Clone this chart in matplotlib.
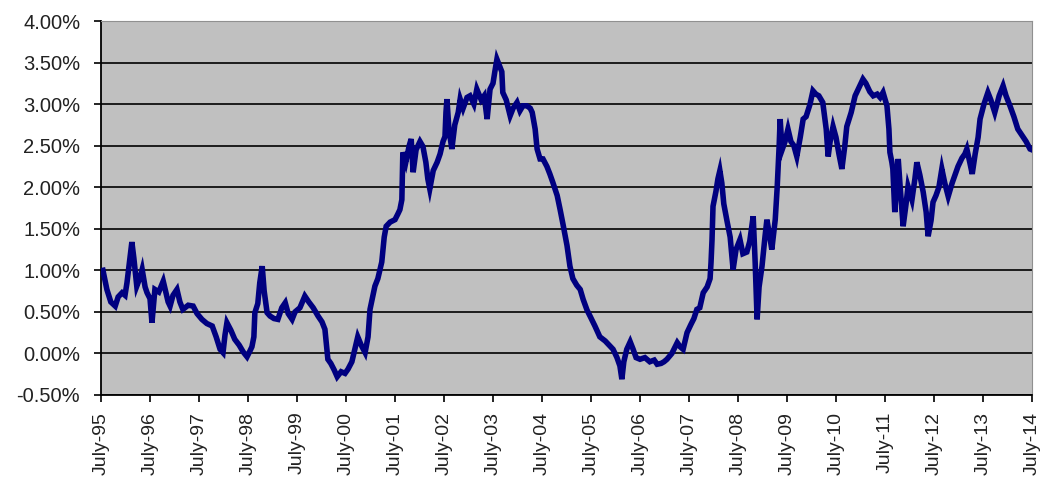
import matplotlib
matplotlib.use("Agg")
import matplotlib.pyplot as plt
from matplotlib.ticker import FuncFormatter

# fractional year of each reading (July-95 = 1995.5)
years = [
    1995.54, 1995.62, 1995.70, 1995.79, 1995.85, 1995.93, 1995.99, 1996.03, 1996.07, 1996.13,
    1996.17, 1996.23, 1996.30, 1996.34, 1996.40, 1996.44, 1996.50, 1996.54, 1996.60, 1996.68,
    1996.77, 1996.83, 1996.87, 1996.91, 1996.97, 1997.05, 1997.11, 1997.17, 1997.28, 1997.38,
    1997.46, 1997.56, 1997.66, 1997.77, 1997.85, 1997.93, 1997.99, 1998.03, 1998.07, 1998.15,
    1998.23, 1998.32, 1998.40, 1998.48, 1998.54, 1998.58, 1998.62, 1998.64, 1998.70, 1998.74,
    1998.79, 1998.83, 1998.89, 1998.95, 1999.03, 1999.11, 1999.19, 1999.26, 1999.32, 1999.40,
    1999.46, 1999.56, 1999.66, 1999.74, 1999.83, 1999.93, 2000.01, 2000.07, 2000.13, 2000.19,
    2000.26, 2000.32, 2000.40, 2000.48, 2000.54, 2000.62, 2000.68, 2000.74, 2000.81, 2000.89,
    2000.95, 2000.99, 2001.05, 2001.09, 2001.15, 2001.23, 2001.28, 2001.32, 2001.40, 2001.50,
    2001.56, 2001.60, 2001.64, 2001.66, 2001.72, 2001.79, 2001.83, 2001.87, 2001.93, 2002.01,
    2002.07, 2002.13, 2002.17, 2002.21, 2002.28, 2002.36, 2002.42, 2002.48, 2002.52, 2002.54,
    2002.56, 2002.60, 2002.66, 2002.72, 2002.79, 2002.83, 2002.89, 2002.97, 2003.03, 2003.11,
    2003.17, 2003.26, 2003.32, 2003.38, 2003.44, 2003.50, 2003.54, 2003.58, 2003.64, 2003.68,
    2003.70, 2003.77, 2003.85, 2003.91, 2003.99, 2004.05, 2004.11, 2004.19, 2004.26, 2004.30,
    2004.36, 2004.40, 2004.46, 2004.52, 2004.60, 2004.66, 2004.72, 2004.81, 2004.87, 2004.93,
    2005.01, 2005.07, 2005.13, 2005.21, 2005.28, 2005.34, 2005.42, 2005.48, 2005.58, 2005.68,
    2005.79, 2005.87, 2005.95, 2006.03, 2006.09, 2006.13, 2006.17, 2006.23, 2006.30, 2006.36,
    2006.42, 2006.50, 2006.60, 2006.70, 2006.79, 2006.85, 2006.93, 2006.99, 2007.05, 2007.15,
    2007.26, 2007.32, 2007.38, 2007.42, 2007.46, 2007.54, 2007.60, 2007.66, 2007.72, 2007.79,
    2007.87, 2007.93, 2007.95, 2007.97, 2007.99, 2008.05, 2008.09, 2008.13, 2008.17, 2008.21,
    2008.28, 2008.34, 2008.40, 2008.46, 2008.54, 2008.60, 2008.68, 2008.74, 2008.81, 2008.85,
    2008.89, 2008.93, 2008.99, 2009.05, 2009.09, 2009.15, 2009.19, 2009.26, 2009.30, 2009.34,
    2009.36, 2009.40, 2009.46, 2009.52, 2009.58, 2009.64, 2009.70, 2009.77, 2009.83, 2009.89,
    2009.97, 2010.03, 2010.09, 2010.15, 2010.23, 2010.30, 2010.34, 2010.38, 2010.44, 2010.50,
    2010.56, 2010.62, 2010.68, 2010.72, 2010.81, 2010.89, 2010.97, 2011.05, 2011.11, 2011.19,
    2011.26, 2011.34, 2011.40, 2011.46, 2011.54, 2011.58, 2011.60, 2011.64, 2011.66, 2011.70,
    2011.77, 2011.81, 2011.87, 2011.93, 2011.97, 2012.05, 2012.11, 2012.15, 2012.21, 2012.28,
    2012.34, 2012.38, 2012.44, 2012.48, 2012.54, 2012.60, 2012.66, 2012.72, 2012.79, 2012.87,
    2012.93, 2012.99, 2013.07, 2013.13, 2013.17, 2013.23, 2013.28, 2013.34, 2013.40, 2013.44,
    2013.52, 2013.60, 2013.66, 2013.74, 2013.83, 2013.91, 2013.97, 2014.05, 2014.13, 2014.21,
    2014.30, 2014.38, 2014.46, 2014.50,
]

# value in percent
values = [
    1.00, 0.77, 0.62, 0.57, 0.68, 0.73, 0.70, 0.85, 1.05, 1.34,
    1.15, 0.81, 0.92, 1.01, 0.80, 0.73, 0.66, 0.37, 0.77, 0.74,
    0.87, 0.72, 0.62, 0.57, 0.70, 0.77, 0.62, 0.53, 0.58, 0.57,
    0.48, 0.41, 0.36, 0.33, 0.20, 0.05, 0.01, 0.22, 0.37, 0.28,
    0.17, 0.10, 0.02, -0.04, 0.03, 0.08, 0.20, 0.49, 0.60, 0.85,
    1.05, 0.75, 0.49, 0.45, 0.42, 0.41, 0.55, 0.61, 0.48, 0.41,
    0.50, 0.55, 0.69, 0.62, 0.55, 0.45, 0.38, 0.29, -0.07, -0.12,
    -0.20, -0.28, -0.22, -0.24, -0.19, -0.10, 0.05, 0.20, 0.10, 0.01,
    0.20, 0.53, 0.70, 0.81, 0.90, 1.10, 1.40, 1.53, 1.58, 1.61,
    1.68, 1.73, 1.85, 2.42, 2.30, 2.50, 2.58, 2.18, 2.45, 2.55,
    2.49, 2.30, 2.10, 1.98, 2.20, 2.30, 2.40, 2.55, 2.61, 2.90,
    3.06, 2.70, 2.46, 2.75, 2.90, 3.06, 2.95, 3.08, 3.10, 3.00,
    3.18, 3.05, 3.10, 2.82, 3.18, 3.25, 3.40, 3.54, 3.45, 3.39,
    3.14, 3.05, 2.86, 2.95, 3.02, 2.92, 2.98, 2.98, 2.95, 2.90,
    2.70, 2.46, 2.34, 2.34, 2.25, 2.16, 2.06, 1.90, 1.73, 1.55,
    1.30, 1.05, 0.90, 0.82, 0.77, 0.65, 0.52, 0.45, 0.33, 0.20,
    0.15, 0.10, 0.05, -0.05, -0.15, -0.31, -0.10, 0.05, 0.14, 0.05,
    -0.05, -0.07, -0.05, -0.10, -0.08, -0.13, -0.12, -0.10, -0.07, 0.00,
    0.13, 0.08, 0.05, 0.15, 0.25, 0.35, 0.42, 0.53, 0.55, 0.73,
    0.80, 0.90, 1.10, 1.37, 1.77, 1.95, 2.10, 2.20, 2.05, 1.80,
    1.58, 1.40, 1.01, 1.25, 1.37, 1.20, 1.22, 1.35, 1.65, 1.10,
    0.41, 0.80, 1.05, 1.40, 1.61, 1.40, 1.25, 1.61, 2.00, 2.50,
    2.82, 2.45, 2.55, 2.70, 2.55, 2.50, 2.37, 2.60, 2.82, 2.85,
    3.00, 3.16, 3.12, 3.10, 3.02, 2.70, 2.37, 2.55, 2.73, 2.60,
    2.40, 2.22, 2.50, 2.73, 2.90, 3.10, 3.20, 3.30, 3.25, 3.15,
    3.10, 3.12, 3.08, 3.14, 2.98, 2.70, 2.42, 2.30, 2.22, 1.70,
    2.34, 2.00, 1.53, 1.80, 2.01, 1.85, 2.10, 2.30, 2.15, 1.94,
    1.70, 1.41, 1.60, 1.82, 1.90, 2.00, 2.22, 2.05, 1.89, 2.05,
    2.15, 2.25, 2.35, 2.40, 2.46, 2.30, 2.16, 2.40, 2.60, 2.82,
    3.00, 3.14, 3.05, 2.90, 3.10, 3.22, 3.10, 2.98, 2.85, 2.70,
    2.62, 2.55, 2.46, 2.45,
]

tick_years = [1995.5 + k for k in range(20)]
tick_labels = [
    "July-95", "July-96", "July-97", "July-98", "July-99", "July-00", "July-01",
    "July-02", "July-03", "July-04", "July-05", "July-06", "July-07", "July-08",
    "July-09", "July-10", "July-11", "July-12", "July-13", "July-14",
]
y_ticks = [-0.5, 0.0, 0.5, 1.0, 1.5, 2.0, 2.5, 3.0, 3.5, 4.0]

plt.rcParams["font.family"] = ["Liberation Sans", "DejaVu Sans"]

fig = plt.figure(figsize=(10.42, 4.91), dpi=100)
ax = fig.add_axes([101 / 1042, 1 - 395 / 491, 931 / 1042, 374 / 491])
ax.set_facecolor("#c0c0c0")

ax.plot(years, values, color="#000080", linewidth=4.0, solid_joinstyle="miter", zorder=3)

ax.set_xlim(1995.5, 2014.5)
ax.set_ylim(-0.5, 4.0)
ax.set_yticks(y_ticks)
ax.yaxis.set_major_formatter(FuncFormatter(lambda v, _: f"{v:.2f}%"))
ax.set_xticks(tick_years)
ax.set_xticklabels(tick_labels, rotation=90)

ax.grid(axis="y", color="black", linewidth=1.2, zorder=1)
ax.set_axisbelow(True)

ax.tick_params(axis="y", direction="out", length=5, width=1.2, pad=10, labelsize=14.5, colors="black")
ax.tick_params(axis="x", direction="out", length=5, width=1.2, pad=7, labelsize=14, colors="black")
for lab in ax.get_yticklabels() + ax.get_xticklabels():
    lab.set_color("#222222")

ax.spines["left"].set_color("black")
ax.spines["left"].set_linewidth(1.3)
ax.spines["bottom"].set_color("black")
ax.spines["bottom"].set_linewidth(1.3)
ax.spines["top"].set_color("#909090")
ax.spines["right"].set_color("#909090")

fig.savefig("out.png", dpi=100, facecolor="white")
